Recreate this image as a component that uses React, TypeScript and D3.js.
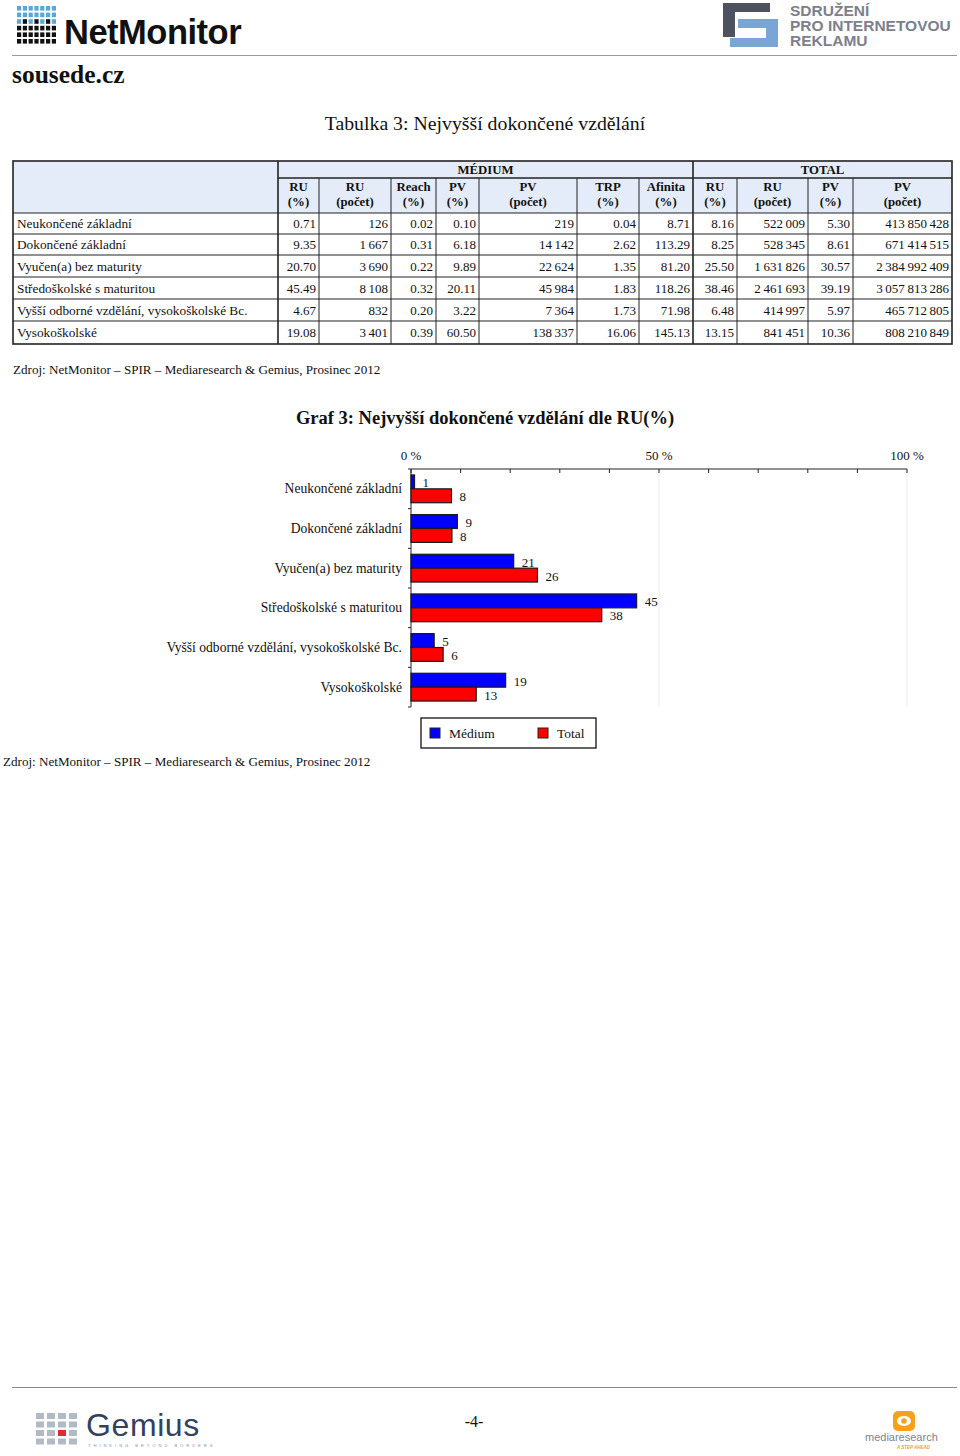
import React from "react";
import * as d3 from "d3";

const categories = [
  "Neukončené základní",
  "Dokončené základní",
  "Vyučen(a) bez maturity",
  "Středoškolské s maturitou",
  "Vyšší odborné vzdělání, vysokoškolské Bc.",
  "Vysokoškolské",
];
const medRuPct = [0.71, 9.35, 20.7, 45.49, 4.67, 19.08];
const medRuCount = [126, 1667, 3690, 8108, 832, 3401];
const medReach = [0.02, 0.31, 0.22, 0.32, 0.2, 0.39];
const medPvPct = [0.1, 6.18, 9.89, 20.11, 3.22, 60.5];
const medPvCount = [219, 14142, 22624, 45984, 7364, 138337];
const medTrp = [0.04, 2.62, 1.35, 1.83, 1.73, 16.06];
const medAfinita = [8.71, 113.29, 81.2, 118.26, 71.98, 145.13];
const totRuPct = [8.16, 8.25, 25.5, 38.46, 6.48, 13.15];
const totRuCount = [522009, 528345, 1631826, 2461693, 414997, 841451];
const totPvPct = [5.3, 8.61, 30.57, 39.19, 5.97, 10.36];
const totPvCount = [413850428, 671414515, 2384992409, 3057813286, 465712805, 808210849];

const headerTop = ["RU", "RU", "Reach", "PV", "PV", "TRP", "Afinita", "RU", "RU", "PV", "PV"];
const headerBottom = ["(%)", "(počet)", "(%)", "(%)", "(počet)", "(%)", "(%)", "(%)", "(počet)", "(%)", "(počet)"];
const groupLabels = ["MÉDIUM", "TOTAL"];
const seriesNames = ["Médium", "Total"];
const axisTicks = [0, 50, 100];
const sourceText = "Zdroj: NetMonitor – SPIR – Mediaresearch & Gemius, Prosinec 2012";

const SERIF = "'Liberation Serif', 'DejaVu Serif', serif";
const SANS = "'Liberation Sans', Arial, sans-serif";

const loc = d3.formatLocale({ decimal: ".", thousands: "\u2009", grouping: [3], currency: ["", ""] });
const fInt = loc.format(",d");
const fPct = d3.format(".2f");

const colX = [13, 278, 319, 391, 436, 479, 577, 639, 693, 737, 808, 853, 952];
const rowY = [213, 234, 255, 277, 299, 321, 344];

function Table() {
  const cols = [medRuPct, medRuCount, medReach, medPvPct, medPvCount, medTrp, medAfinita, totRuPct, totRuCount, totPvPct, totPvCount];
  const isCount = [false, true, false, false, true, false, false, false, true, false, true];
  const top = 161, mid = 178, hdrBot = 213, bot = rowY[rowY.length - 1];
  const hdrFill = "#e3ecf8";
  const lineC = "#222";
  return (
    <g fontFamily={SERIF} fill="#111">
      <rect x={colX[0]} y={top} width={colX[12] - colX[0]} height={hdrBot - top} fill={hdrFill} />
      <line x1={colX[1]} x2={colX[12]} y1={mid} y2={mid} stroke={lineC} strokeWidth={1.6} />
      <line x1={colX[0]} x2={colX[12]} y1={hdrBot} y2={hdrBot} stroke={lineC} strokeWidth={1} />
      {rowY.slice(1, -1).map((y) => (
        <line key={y} x1={colX[0]} x2={colX[12]} y1={y} y2={y} stroke={lineC} strokeWidth={1} />
      ))}
      {colX.slice(1, -1).map((x, i) => {
        const major = x === colX[1] || x === colX[8];
        return <line key={i} x1={x} x2={x} y1={major ? top : mid} y2={bot} stroke={lineC} strokeWidth={major ? 1.6 : 1} />;
      })}
      <rect x={colX[0]} y={top} width={colX[12] - colX[0]} height={bot - top} fill="none" stroke={lineC} strokeWidth={1.6} />
      <text x={(colX[1] + colX[8]) / 2} y={173.5} textAnchor="middle" fontSize={12.8} fontWeight="bold">{groupLabels[0]}</text>
      <text x={(colX[8] + colX[12]) / 2} y={173.5} textAnchor="middle" fontSize={12.8} fontWeight="bold">{groupLabels[1]}</text>
      {headerTop.map((h, i) => (
        <g key={i}>
          <text x={(colX[i + 1] + colX[i + 2]) / 2} y={191} textAnchor="middle" fontSize={12.8} fontWeight="bold">{h}</text>
          <text x={(colX[i + 1] + colX[i + 2]) / 2} y={206} textAnchor="middle" fontSize={12.8} fontWeight="bold">{headerBottom[i]}</text>
        </g>
      ))}
      {categories.map((c, r) => {
        const yMid = (rowY[r] + rowY[r + 1]) / 2 + 4.5;
        return (
          <g key={c}>
            <text x={17} y={yMid} fontSize={13.3}>{c}</text>
            {cols.map((arr, j) => (
              <text key={j} x={colX[j + 2] - 3} y={yMid} textAnchor="end" fontSize={13}>
                {isCount[j] ? fInt(arr[r]) : fPct(arr[r])}
              </text>
            ))}
          </g>
        );
      })}
    </g>
  );
}

function Chart() {
  const x = d3.scaleLinear().domain([0, 100]).range([411, 907]);
  const y = d3.scaleBand<string>().domain(categories).range([469, 707]).paddingInner(0.3).paddingOuter(0.15);
  const sub = d3.scaleBand<string>().domain(seriesNames).range([0, y.bandwidth()]);
  const series = [
    { name: seriesNames[0], values: medRuPct, color: "#0000ff" },
    { name: seriesNames[1], values: totRuPct, color: "#ff0000" },
  ];
  const [y0, y1] = y.range();
  const step = y.step();
  const minorTicks = d3.range(0, 101, 10);
  return (
    <g fontFamily={SERIF} fill="#111">
      {axisTicks.filter((t) => t > 0).map((t) => (
        <line key={t} x1={x(t)} x2={x(t)} y1={y0} y2={y1} stroke="#ececec" strokeWidth={1} />
      ))}
      <line x1={x(0)} x2={x(100)} y1={y0} y2={y0} stroke="#222" strokeWidth={1} />
      {minorTicks.map((t) => (
        <line key={t} x1={x(t)} x2={x(t)} y1={y0} y2={y0 + 4} stroke="#222" strokeWidth={1} />
      ))}
      {axisTicks.map((t) => (
        <text key={t} x={x(t)} y={460} textAnchor="middle" fontSize={13}>{`${t} %`}</text>
      ))}
      <line x1={x(0)} x2={x(0)} y1={y0} y2={y1} stroke="#222" strokeWidth={1} />
      {d3.range(0, categories.length + 1).map((i) => (
        <line key={i} x1={x(0) - 3} x2={x(0)} y1={y0 + i * step} y2={y0 + i * step} stroke="#222" strokeWidth={1} />
      ))}
      {categories.map((c, i) => (
        <g key={c}>
          <text x={402} y={y0 + (i + 0.5) * step} dominantBaseline="central" textAnchor="end" fontSize={13.6}>{c}</text>
          {series.map((s) => {
            const by = (y(c) as number) + (sub(s.name) as number);
            const bh = sub.bandwidth();
            const v = s.values[i];
            return (
              <g key={s.name}>
                <rect x={x(0)} y={by} width={x(v) - x(0)} height={bh} fill={s.color} stroke="#1a1a1a" strokeWidth={1.2} />
                <text x={x(v) + 8} y={by + bh / 2 + 1} dominantBaseline="central" fontSize={13}>{Math.round(v)}</text>
              </g>
            );
          })}
        </g>
      ))}
      <rect x={421} y={718} width={175} height={30} fill="#fff" stroke="#111" strokeWidth={1.3} />
      {series.map((s, i) => (
        <g key={s.name} transform={`translate(${i === 0 ? 430 : 538},728)`}>
          <rect x={0} y={0} width={10} height={10} fill={s.color} stroke="#222" strokeWidth={1} />
          <text x={19} y={5} dominantBaseline="central" fontSize={13.5}>{s.name}</text>
        </g>
      ))}
    </g>
  );
}

function NetMonitorLogo() {
  const rows = 6, colsN = 7;
  const cells: { x: number; y: number; c: string }[] = [];
  for (let r = 0; r < rows; r++) {
    for (let c = 0; c < colsN; c++) {
      let color = "#111";
      if (r < 2) color = "#5aa7d8";
      else if (r === 2) color = c % 2 === 0 ? "#5aa7d8" : "#111";
      cells.push({ x: 17 + c * 5.8, y: 6 + r * 6.6, c: color });
    }
  }
  return (
    <g>
      {cells.map((d, i) => (
        <rect key={i} x={d.x} y={d.y} width={4.2} height={4.6} fill={d.c} />
      ))}
      <text x={64} y={44} fontFamily={SANS} fontWeight="bold" fontSize={34.5} fill="#111" letterSpacing={-0.5}>NetMonitor</text>
    </g>
  );
}

function SpirLogo() {
  return (
    <g>
      <path d="M723,3 H770 V12 H735 V24 H723 Z" fill="#4d525e" />
      <path d="M723,24 H735 V37 H723 Z" fill="#4d525e" />
      <path d="M738,19 H778 V47 H730 V38 H766 V28 H738 Z" fill="#7aa6d6" />
      <g fontFamily={SANS} fontWeight="bold" fontSize={15.5} fill="#7c808b">
        <text x={790} y={16}>SDRUŽENÍ</text>
        <text x={790} y={31}>PRO INTERNETOVOU</text>
        <text x={790} y={46}>REKLAMU</text>
      </g>
    </g>
  );
}

function GemiusLogo() {
  const cells: { x: number; y: number; c: string }[] = [];
  for (let c = 0; c < 4; c++) {
    for (let r = 0; r < 4; r++) {
      const red = c === 2 && r === 2;
      cells.push({ x: 36 + c * 11, y: 1413 + r * 8.5, c: red ? "#e52a2a" : "#b4bac4" });
    }
  }
  return (
    <g>
      {cells.map((d, i) => (
        <rect key={i} x={d.x} y={d.y} width={8} height={6} fill={d.c} />
      ))}
      <text x={86} y={1436} fontFamily={SANS} fontSize={32} fill="#33415f" letterSpacing={0.6}>Gemius</text>
      <text x={88} y={1447} fontFamily={SANS} fontSize={4.2} fill="#8a90a0" letterSpacing={2.9}>THINKING BEYOND BORDERS</text>
    </g>
  );
}

function MediaLogo() {
  return (
    <g>
      <rect x={893} y={1411} width={22} height={20} rx={5} fill="#f5a21b" />
      <ellipse cx={904} cy={1421} rx={7} ry={5} fill="#fff" />
      <circle cx={904} cy={1421} r={2.8} fill="#f5a21b" />
      <text x={865} y={1441} fontFamily={SANS} fontSize={11} fill="#7d828c">mediaresearch</text>
      <text x={897} y={1449} fontFamily={SANS} fontSize={4.5} fontStyle="italic" fontWeight="bold" fill="#f0a020">A STEP AHEAD</text>
    </g>
  );
}

export default function App() {
  return (
    <svg width={960} height={1456} style={{ position: "absolute", left: 0, top: 0, background: "#fff" }}>
      <rect width={960} height={1456} fill="#fff" />
      <NetMonitorLogo />
      <SpirLogo />
      <line x1={12} x2={957} y1={55.5} y2={55.5} stroke="#999" strokeWidth={1.2} />
      <text x={12} y={83} fontFamily={SERIF} fontWeight="bold" fontSize={25.5} fill="#111">sousede.cz</text>
      <text x={485} y={130} textAnchor="middle" fontFamily={SERIF} fontSize={19.8} fill="#111">Tabulka 3: Nejvyšší dokončené vzdělání</text>
      <Table />
      <text x={13} y={374} fontFamily={SERIF} fontSize={13.1} fill="#111">{sourceText}</text>
      <text x={485} y={424} textAnchor="middle" fontFamily={SERIF} fontWeight="bold" fontSize={18.5} fill="#111">Graf 3: Nejvyšší dokončené vzdělání dle RU(%)</text>
      <Chart />
      <text x={3} y={766} fontFamily={SERIF} fontSize={13.1} fill="#111">{sourceText}</text>
      <line x1={12} x2={957} y1={1387.5} y2={1387.5} stroke="#888" strokeWidth={1.2} />
      <text x={474} y={1427} textAnchor="middle" fontFamily={SERIF} fontSize={16} fill="#111">-4-</text>
      <GemiusLogo />
      <MediaLogo />
    </svg>
  );
}
